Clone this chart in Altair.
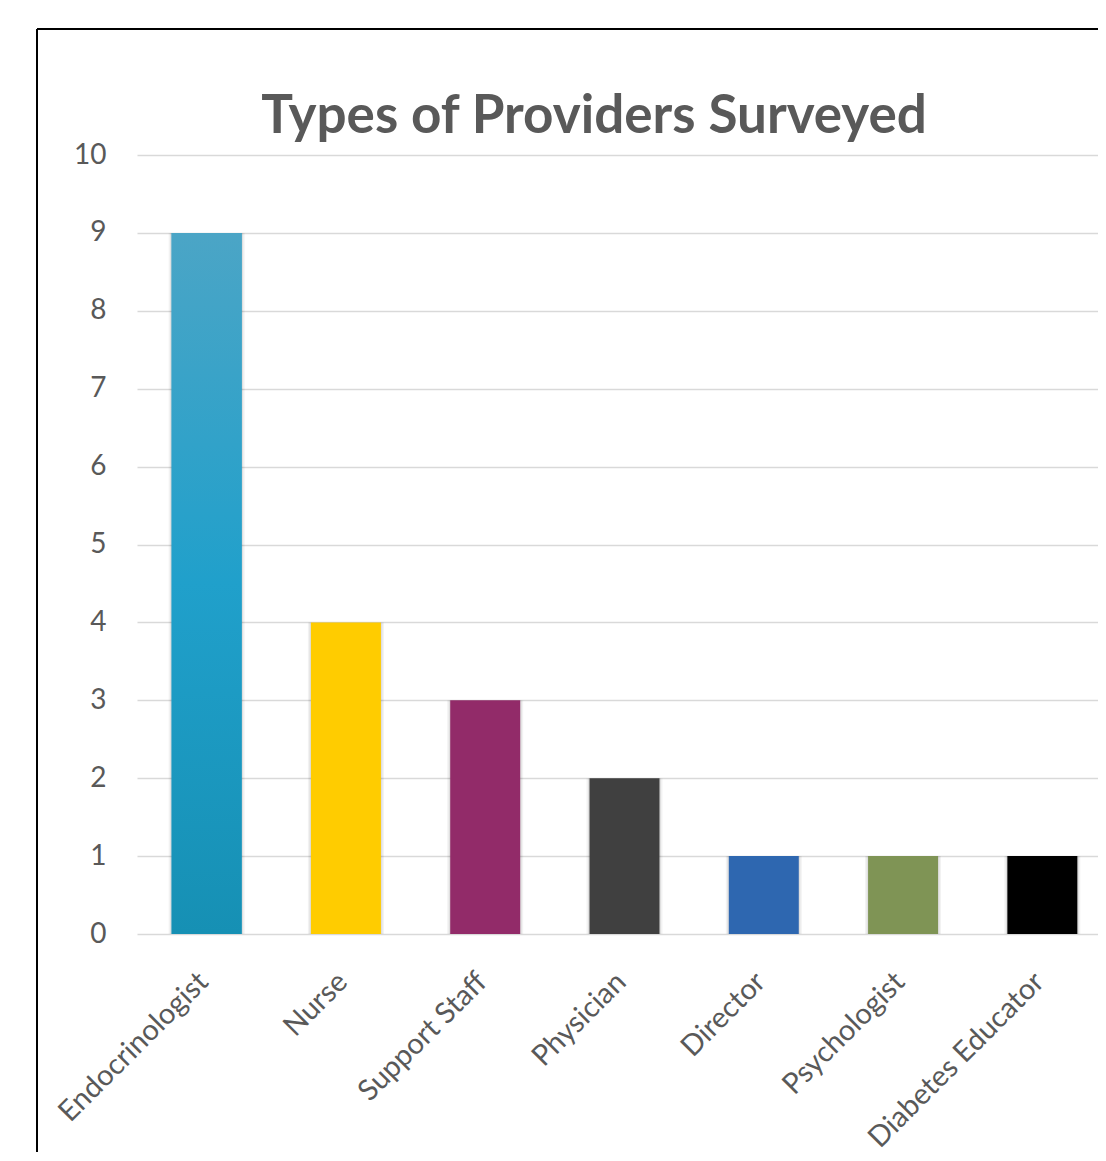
import altair as alt
import pandas as pd

title_text = "Types of Providers Surveyed"
categories = ["Endocrinologist", "Nurse", "Support Staff", "Physician",
              "Director", "Psychologist", "Diabetes Educator"]
values = [9, 4, 3, 2, 1, 1, 1]
colors = ["#1E9AC4", "#FFCC00", "#922B69", "#404040",
          "#2E67B0", "#7F9455", "#000000"]
y_ticks = list(range(0, 11))

df = pd.DataFrame({"cat": categories, "val": values})

FONT = "Lato"
GRAY = "#595959"

x_enc = alt.X("cat:N", sort=categories,
              scale=alt.Scale(domain=categories, range=[0, 975], paddingInner=0.5, paddingOuter=0.25),
              axis=alt.Axis(title=None, labelAngle=-45, labelAlign="right", labelBaseline="top",
                            labelPadding=33, labelOffset=-13, ticks=False, tickSize=0, domain=False,
                            labelLimit=0, labelFont=FONT, labelFontSize=29, labelColor=GRAY,
                            grid=False))
y_enc = alt.Y("val:Q", scale=alt.Scale(domain=[0, 10], nice=False),
              axis=alt.Axis(title=None, values=y_ticks, ticks=False, tickSize=0, domain=False,
                            labelPadding=31, labelFont=FONT, labelFontSize=28, labelColor=GRAY,
                            grid=True, gridColor="#D9D9D9", gridWidth=1.5))

base = alt.Chart(df)

shadow1 = base.mark_bar(width=76, color="#000000", opacity=0.05).encode(x=x_enc, y=y_enc)
shadow2 = base.mark_bar(width=73, color="#000000", opacity=0.08).encode(x=x_enc, y=y_enc)

bars = base.mark_bar(width=70).encode(
    x=x_enc, y=y_enc,
    color=alt.Color("cat:N", scale=alt.Scale(domain=categories, range=colors), legend=None),
)

grad = alt.Gradient(
    gradient="linear",
    stops=[alt.GradientStop(color="#4BA5C6", offset=0),
           alt.GradientStop(color="#20A0CB", offset=0.5),
           alt.GradientStop(color="#1690B4", offset=1)],
    x1=0, x2=0, y1=0, y2=1,
)
endo = base.transform_filter(alt.datum.cat == "Endocrinologist").mark_bar(
    width=70, color=grad).encode(x=x_enc, y=y_enc)

one = alt.Chart(pd.DataFrame({"t": [title_text]}))
border_left = one.mark_rule(color="#000000", strokeWidth=2).encode(
    x=alt.value(-100), y=alt.value(-126), y2=alt.value(1400))
border_top = one.mark_rule(color="#000000", strokeWidth=2).encode(
    x=alt.value(-100), x2=alt.value(1400), y=alt.value(-126))
title = one.mark_text(font=FONT, fontSize=53, fontWeight="bold", color=GRAY,
                      align="center", baseline="alphabetic").encode(
    x=alt.value(457), y=alt.value(-22), text="t:N")

chart = alt.layer(border_left, border_top, title, shadow1, shadow2, bars, endo).properties(
    width=961, height=779,
    padding={"left": 129, "top": 147, "right": 0, "bottom": 218},
    autosize=alt.AutoSizeParams(type="none"),
).configure_view(strokeWidth=0)

chart.save("out.html", embed_options={"renderer": "svg", "actions": False})
